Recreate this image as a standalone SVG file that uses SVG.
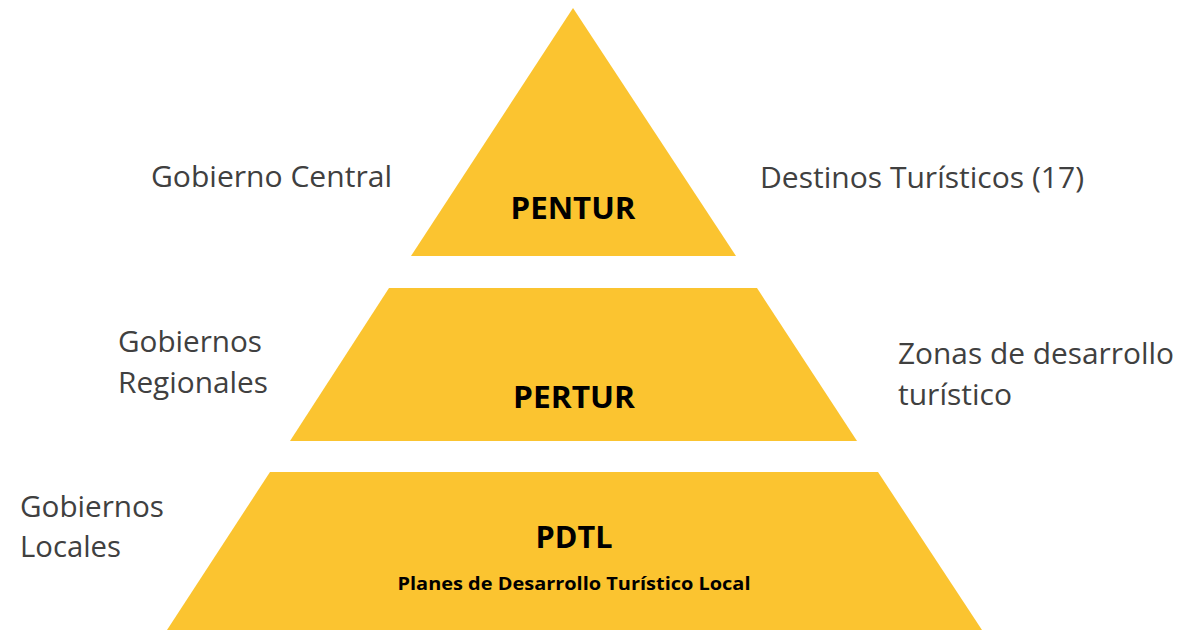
<svg xmlns="http://www.w3.org/2000/svg" width="1199" height="630" viewBox="0 0 1199 630">
<style>
.tier{fill:#FBC430;}
.lbl{font-family:"Open Sans","Liberation Sans",sans-serif;font-size:29.5px;fill:#404040;}
.ttl{font-family:"Open Sans","Liberation Sans",sans-serif;font-weight:bold;font-size:31px;fill:#000;text-anchor:middle;}
.sub{font-family:"Open Sans","Liberation Sans",sans-serif;font-weight:bold;font-size:17px;fill:#000;text-anchor:middle;}
</style>
<rect width="1199" height="630" fill="#fff"/>
<g id="pentur">
<polygon class="tier" points="573,8 736,256 411,256"/>
<text class="ttl" x="573" y="219" textLength="125" lengthAdjust="spacingAndGlyphs">PENTUR</text>
</g>
<g id="pertur">
<polygon class="tier" points="389,288 757,288 857,441 290,441"/>
<text class="ttl" x="574" y="408" textLength="122" lengthAdjust="spacingAndGlyphs">PERTUR</text>
</g>
<g id="pdtl">
<polygon class="tier" points="270,472 878,472 982,630 167,630"/>
<text class="ttl" x="574" y="548" textLength="77" lengthAdjust="spacingAndGlyphs">PDTL</text>
<text class="sub" x="574" y="590" textLength="353" lengthAdjust="spacingAndGlyphs">Planes de Desarrollo Turístico Local</text>
</g>
<g id="gobierno-central"><text class="lbl" x="151" y="187" textLength="241" lengthAdjust="spacingAndGlyphs">Gobierno Central</text></g>
<g id="destinos"><text class="lbl" x="760" y="188" textLength="324" lengthAdjust="spacingAndGlyphs">Destinos Turísticos (17)</text></g>
<g id="gobiernos-regionales"><text class="lbl" x="118" y="352" textLength="144" lengthAdjust="spacingAndGlyphs">Gobiernos</text><text class="lbl" x="118" y="393" textLength="150" lengthAdjust="spacingAndGlyphs">Regionales</text></g>
<g id="zonas"><text class="lbl" x="898" y="364" textLength="276" lengthAdjust="spacingAndGlyphs">Zonas de desarrollo</text><text class="lbl" x="898" y="405" textLength="114" lengthAdjust="spacingAndGlyphs">turístico</text></g>
<g id="gobiernos-locales"><text class="lbl" x="20" y="517" textLength="144" lengthAdjust="spacingAndGlyphs">Gobiernos</text><text class="lbl" x="20" y="557" textLength="101" lengthAdjust="spacingAndGlyphs">Locales</text></g>
<g id="connectors"/>
</svg>
